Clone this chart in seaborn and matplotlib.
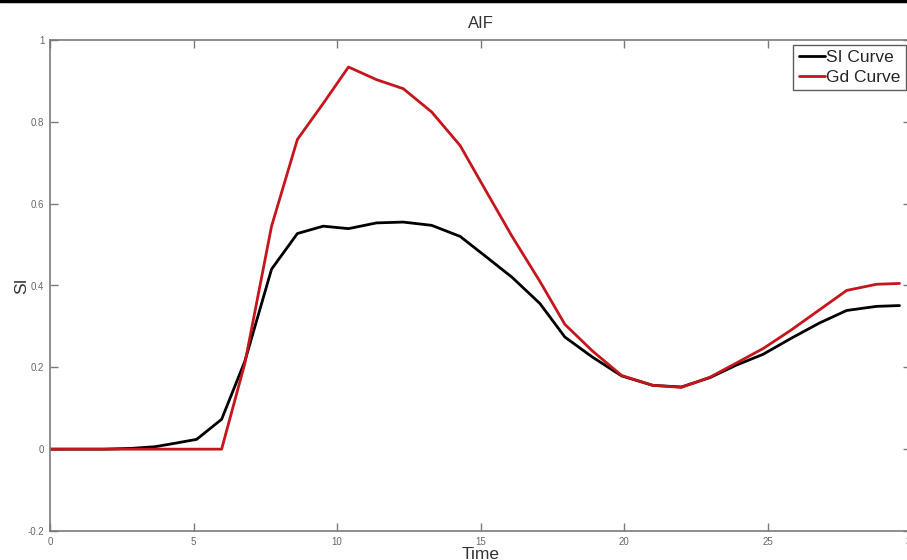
import matplotlib
matplotlib.use("Agg")
import matplotlib.pyplot as plt
import seaborn as sns
import pandas as pd

# sample times
time = [0, 0.93, 1.86, 2.85, 3.66, 4.4, 5.11, 5.98, 6.79, 7.72, 8.62, 9.52,
        10.4, 11.38, 12.31, 13.3, 14.29, 15.2, 16.1, 17.07, 17.94, 18.9,
        19.92, 21.0, 22.0, 23.0, 23.9, 24.85, 25.8, 26.8, 27.76, 28.8, 29.6]

si_curve = [0, 0, 0, 0.002, 0.006, 0.015, 0.024, 0.073, 0.215, 0.44, 0.527,
            0.545, 0.539, 0.553, 0.555, 0.547, 0.52, 0.47, 0.42, 0.356, 0.274,
            0.225, 0.179, 0.156, 0.152, 0.175, 0.205, 0.232, 0.27, 0.308,
            0.339, 0.349, 0.351]

gd_curve = [0, 0, 0, 0, 0, 0, 0, 0, 0.21, 0.545, 0.757, 0.845, 0.934, 0.903,
            0.881, 0.824, 0.742, 0.63, 0.52, 0.41, 0.305, 0.24, 0.18, 0.156,
            0.151, 0.176, 0.21, 0.246, 0.29, 0.34, 0.388, 0.403, 0.405]

x_ticks = [0, 5, 10, 15, 20, 25, 30]
y_ticks = [-0.2, 0, 0.2, 0.4, 0.6, 0.8, 1]
y_tick_labels = ["-0.2", "0", "0.2", "0.4", "0.6", "0.8", "1"]

df = pd.DataFrame({
    "Time": time * 2,
    "SI": si_curve + gd_curve,
    "Curve": ["SI Curve"] * len(time) + ["Gd Curve"] * len(time),
})

sns.set_theme(style="white")
plt.rcParams["font.family"] = ["Liberation Sans", "DejaVu Sans"]

fig = plt.figure(figsize=(9.07, 5.6), dpi=100)
# axes run a little past the right edge, like the cropped original
ax = fig.add_axes([50 / 907, 29 / 560, 861 / 907, 491 / 560])

sns.lineplot(data=df, x="Time", y="SI", hue="Curve",
             palette={"SI Curve": "black", "Gd Curve": "#c4161c"},
             linewidth=2.0, ax=ax, sort=False)

ax.set_xlim(0, 30)
ax.set_ylim(-0.2, 1)
ax.set_xticks(x_ticks)
ax.set_yticks(y_ticks)
ax.set_yticklabels(y_tick_labels)

gray = "#7a7a7a"
for s in ax.spines.values():
    s.set_color(gray)
    s.set_linewidth(1.2)
ax.tick_params(direction="in", length=6, width=1, color=gray,
               labelsize=7, labelcolor="#666666", top=True, right=True,
               bottom=True, left=True, pad=4)

ax.set_title("AIF", fontsize=12, color="#333333", pad=9)
ax.set_xlabel("Time", fontsize=12.5, color="#333333", labelpad=0)
ax.set_ylabel("SI", fontsize=12.5, color="#333333", labelpad=-1)

leg = ax.legend(loc="upper right", bbox_to_anchor=(906 / 907, 1 - 45 / 560),
                bbox_transform=fig.transFigure, borderaxespad=0,
                fontsize=12.5, frameon=True, fancybox=False,
                handlelength=1.5, handletextpad=0.1, borderpad=0.3,
                labelspacing=0.25, title=None)
leg.get_frame().set_edgecolor("#333333")
leg.get_frame().set_linewidth(1.0)

# dark strip along the top edge of the screenshot
fig.add_artist(plt.Line2D([0, 1], [0.998, 0.998], color="black", lw=2.5,
                          transform=fig.transFigure))

fig.savefig("out.png", dpi=100)
plt.close()
